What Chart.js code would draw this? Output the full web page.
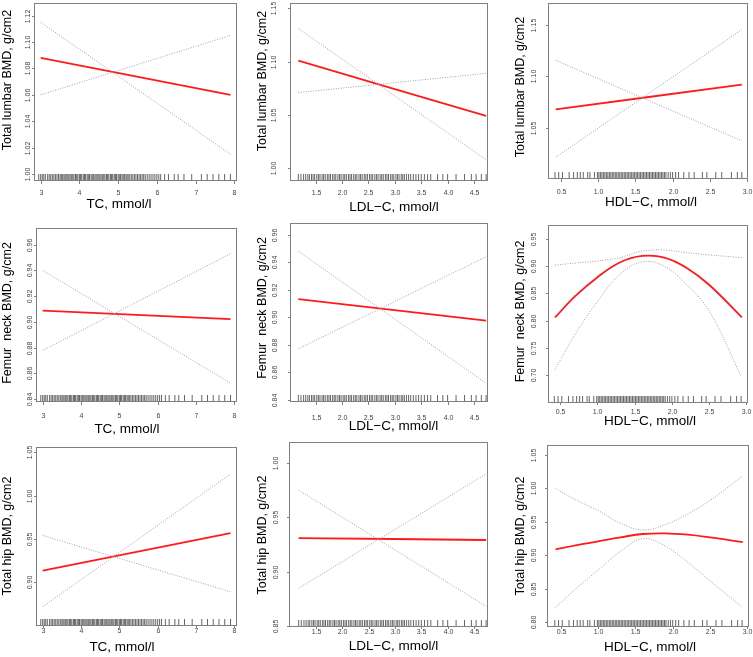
<!DOCTYPE html>
<html lang="en">
<head>
<meta charset="utf-8">
<title>BMD vs lipids</title>
<script src="https://cdn.jsdelivr.net/npm/chart.js@4/dist/chart.umd.min.js"></script>
<style>
  html, body { margin: 0; padding: 0; background: #fff; }
  #wrap { position: relative; width: 753px; height: 657px; }
  canvas { position: absolute; }
</style>
</head>
<body>
<div id="wrap"></div>
<script>
// --- x values (mmol/l) ---
const tcX = [3.0, 7.9];
const ldlX = [1.17, 4.73];
const hdlX = [0.43, 2.93];
const hdlCurveX = [0.43, 0.7, 1.0, 1.3, 1.6, 1.9, 2.2, 2.5, 2.94];

// --- tick labels ---
const tcTicks = [3, 4, 5, 6, 7, 8];
const ldlTicks = [1.5, 2.0, 2.5, 3.0, 3.5, 4.0, 4.5];
const hdlTicks = [0.5, 1.0, 1.5, 2.0, 2.5, 3.0];
const lumbarTcTicks = [1.00, 1.02, 1.04, 1.06, 1.08, 1.10, 1.12];
const lumbarLdlTicks = [1.00, 1.05, 1.10, 1.15];
const lumbarHdlTicks = [1.05, 1.10, 1.15];
const neckTicks = [0.84, 0.86, 0.88, 0.90, 0.92, 0.94, 0.96];
const neckHdlTicks = [0.70, 0.75, 0.80, 0.85, 0.90, 0.95];
const hipTcTicks = [0.90, 0.95, 1.00, 1.05];
const hipLdlTicks = [0.85, 0.90, 0.95, 1.00];
const hipHdlTicks = [0.80, 0.85, 0.90, 0.95, 1.00, 1.05];

// --- rug (observed values) ---
const tcRug = [2.95, 3.0, 3.04, 3.08, 3.12, 3.18, 3.22, 3.26, 3.3, 3.34, 3.38, 3.42, 3.46, 3.5,
  3.53, 3.56, 3.6, 3.63, 3.66, 3.7, 3.73, 3.76, 3.8, 3.83, 3.86, 3.9, 3.93, 3.96, 4.0, 4.03, 4.06,
  4.1, 4.13, 4.16, 4.2, 4.23, 4.26, 4.3, 4.33, 4.36, 4.4, 4.43, 4.46, 4.5, 4.53, 4.56, 4.6, 4.63,
  4.66, 4.7, 4.73, 4.76, 4.8, 4.83, 4.86, 4.9, 4.93, 4.96, 5.0, 5.03, 5.06, 5.1, 5.13, 5.16, 5.2,
  5.23, 5.26, 5.3, 5.34, 5.38, 5.42, 5.46, 5.5, 5.54, 5.58, 5.62, 5.66, 5.7, 5.75, 5.8, 5.85, 5.9,
  5.95, 6.0, 6.05, 6.1, 6.2, 6.3, 6.45, 6.55, 6.7, 6.9, 7.15, 7.3, 7.45, 7.6, 7.75, 7.9];
const ldlRug = [1.17, 1.22, 1.27, 1.31, 1.35, 1.38, 1.42, 1.45, 1.48, 1.52, 1.55, 1.58, 1.62,
  1.65, 1.68, 1.72, 1.75, 1.78, 1.82, 1.85, 1.88, 1.92, 1.95, 1.98, 2.02, 2.05, 2.08, 2.12, 2.15,
  2.18, 2.22, 2.25, 2.28, 2.32, 2.35, 2.38, 2.42, 2.45, 2.48, 2.52, 2.55, 2.58, 2.62, 2.65, 2.68,
  2.72, 2.75, 2.78, 2.82, 2.85, 2.88, 2.92, 2.95, 2.98, 3.02, 3.05, 3.08, 3.12, 3.15, 3.18, 3.22,
  3.26, 3.3, 3.35, 3.4, 3.45, 3.5, 3.56, 3.62, 3.68, 3.81, 3.91, 4.0, 4.16, 4.32, 4.45, 4.54,
  4.64, 4.73];
const hdlRug = [0.42, 0.47, 0.52, 0.61, 0.67, 0.72, 0.76, 0.8, 0.86, 0.89, 0.95, 0.99, 1.01,
  1.03, 1.05, 1.07, 1.09, 1.11, 1.13, 1.15, 1.17, 1.19, 1.21, 1.23, 1.25, 1.27, 1.29, 1.31, 1.33,
  1.35, 1.37, 1.39, 1.41, 1.43, 1.45, 1.47, 1.49, 1.51, 1.53, 1.55, 1.57, 1.59, 1.61, 1.63, 1.65,
  1.67, 1.69, 1.71, 1.73, 1.75, 1.77, 1.79, 1.81, 1.83, 1.85, 1.87, 1.89, 1.91, 1.94, 1.97, 2.0,
  2.04, 2.08, 2.15, 2.22, 2.29, 2.40, 2.46, 2.58, 2.66, 2.79, 2.87, 2.93];

// --- fitted BMD (g/cm2) with confidence bounds ---
const lumbarTcFit = [1.088, 1.060];
const lumbarTcCiA = [1.115, 1.015];
const lumbarTcCiB = [1.060, 1.105];
const lumbarLdlFit = [1.101, 1.049];
const lumbarLdlCiA = [1.131, 1.008];
const lumbarLdlCiB = [1.071, 1.089];
const lumbarHdlFit = [1.068, 1.092];
const lumbarHdlCiA = [1.1155, 1.0375];
const lumbarHdlCiB = [1.0217, 1.1452];
const neckTcFit = [0.9087, 0.9022];
const neckTcCiA = [0.940, 0.8524];
const neckTcCiB = [0.8778, 0.953];
const neckLdlFit = [0.9132, 0.8975];
const neckLdlCiA = [0.948, 0.8519];
const neckLdlCiB = [0.877, 0.944];
const neckHdlFit = [0.806, 0.845, 0.880, 0.907, 0.919, 0.916, 0.897, 0.866, 0.806];
const neckHdlUpper = [0.902, 0.906, 0.910, 0.916, 0.928, 0.930, 0.925, 0.921, 0.916];
const neckHdlLower = [0.710, 0.775, 0.835, 0.885, 0.908, 0.900, 0.866, 0.818, 0.695];
const hipTcFit = [0.9135, 0.9567];
const hipTcCiA = [0.954, 0.889];
const hipTcCiB = [0.8717, 1.0249];
const hipLdlFit = [0.9311, 0.9293];
const hipLdlCiA = [0.975, 0.8684];
const hipLdlCiB = [0.885, 0.990];
const hipHdlFit = [0.909, 0.915, 0.921, 0.927, 0.932, 0.933, 0.931, 0.927, 0.920];
const hipHdlUpper = [1.000, 0.983, 0.967, 0.948, 0.938, 0.946, 0.962, 0.982, 1.019];
const hipHdlLower = [0.822, 0.850, 0.878, 0.906, 0.925, 0.914, 0.890, 0.862, 0.822];

const FONT = 'Liberation Sans, Arial, Helvetica, sans-serif';
const W = 251, H = 219;

// R-style frame, ticks, titles and rug, placed through the chart scales
const rPlot = {
  id: 'rPlot',
  beforeDatasetsDraw(chart, args, o) {
    const {ctx, chartArea: a, scales: {x}} = chart;
    ctx.save();
    ctx.strokeStyle = 'rgba(50,50,50,0.75)';
    ctx.lineWidth = 1;
    ctx.beginPath();
    o.rug.forEach(v => {
      const px = x.getPixelForValue(v);
      ctx.moveTo(px, a.bottom - 1);
      ctx.lineTo(px, a.bottom - 7);
    });
    ctx.stroke();
    ctx.restore();
  },
  afterDraw(chart, args, o) {
    const {ctx, chartArea: a, scales: {x, y}} = chart;
    ctx.save();
    ctx.strokeStyle = '#808080';
    ctx.lineWidth = 1;
    ctx.strokeRect(a.left + 0.5, a.top + 0.5, a.width - 1, a.height - 1);

    ctx.fillStyle = '#444';
    ctx.font = '7px ' + FONT;
    ctx.textAlign = 'center';
    ctx.textBaseline = 'middle';
    ctx.beginPath();
    o.xTicks.forEach(v => {
      const px = Math.round(x.getPixelForValue(v)) + 0.5;
      ctx.moveTo(px, a.bottom);
      ctx.lineTo(px, a.bottom + o.tickLen);
      ctx.fillText(v.toFixed(o.xDec), px, o.xLabelY);
    });
    o.yTicks.forEach(v => {
      const py = Math.round(y.getPixelForValue(v)) + 0.5;
      ctx.moveTo(a.left, py);
      ctx.lineTo(a.left - 2, py);
      ctx.save();
      ctx.translate(o.yLabelX, py);
      ctx.rotate(-Math.PI / 2);
      ctx.fillText(v.toFixed(2), 0, 0);
      ctx.restore();
    });
    ctx.stroke();

    ctx.fillStyle = '#000';
    ctx.font = '13.5px ' + FONT;
    ctx.fillText(o.xTitle, o.xTitlePos[0], o.xTitlePos[1]);
    ctx.font = '12.5px ' + FONT;
    ctx.translate(o.yTitlePos[0], o.yTitlePos[1]);
    ctx.rotate(-Math.PI / 2);
    ctx.fillText(o.yTitle, 0, 0);
    ctx.restore();
  }
};

function pts(xs, ys) {
  return xs.map((v, i) => ({x: v, y: ys[i]}));
}

function makePanel(p) {
  const c = document.createElement('canvas');
  c.width = W; c.height = H;
  c.style.left = p.pos[0] + 'px';
  c.style.top = p.pos[1] + 'px';
  document.getElementById('wrap').appendChild(c);
  const dotted = {borderColor: '#a0a0a0', borderWidth: 1, borderDash: [1, 1.5], pointRadius: 0, tension: 0.4, fill: false};
  new Chart(c, {
    type: 'line',
    data: {
      datasets: [
        Object.assign({data: pts(p.xs, p.ciA)}, dotted),
        Object.assign({data: pts(p.xs, p.ciB)}, dotted),
        {data: pts(p.xs, p.fit), borderColor: '#ff1a1a', borderWidth: 1.8, pointRadius: 0, tension: 0.4, fill: false}
      ]
    },
    options: {
      responsive: false,
      animation: false,
      devicePixelRatio: 1,
      layout: {padding: {top: p.area[2], right: W - p.area[1], left: 0, bottom: 0}},
      plugins: {
        legend: {display: false},
        tooltip: {enabled: false},
        rPlot: {
          rug: p.rug, xTicks: p.xTicks, yTicks: p.yTicks, xDec: p.xDec, tickLen: p.tickLen,
          xLabelY: p.xLabelY, yLabelX: p.yLabelX,
          xTitle: p.xTitle, yTitle: p.yTitle, xTitlePos: p.xTitlePos, yTitlePos: p.yTitlePos
        }
      },
      scales: {
        x: {
          type: 'linear', min: p.xr[0], max: p.xr[1],
          grid: {display: false}, border: {display: false}, ticks: {display: false},
          afterFit: s => { s.height = H - p.area[3]; }
        },
        y: {
          type: 'linear', min: p.yr[0], max: p.yr[1],
          grid: {display: false}, border: {display: false}, ticks: {display: false},
          afterFit: s => { s.width = p.area[0]; }
        }
      }
    },
    plugins: [rPlot]
  });
}

const lumbar = 'Total lumbar BMD, g/cm2';
const neck = 'Femur  neck BMD, g/cm2';
const hip = 'Total hip BMD, g/cm2';
const tcT = 'TC, mmol/l', ldlT = 'LDL\u2212C, mmol/l', hdlT = 'HDL\u2212C, mmol/l';

const panels = [
  {pos: [0, 0], area: [34, 237, 3, 181], xr: [2.827, 8.07], yr: [0.9947, 1.1296],
   xs: tcX, fit: lumbarTcFit, ciA: lumbarTcCiA, ciB: lumbarTcCiB, rug: tcRug,
   xTicks: tcTicks, xDec: 0, yTicks: lumbarTcTicks, xLabelY: 192.7, yLabelX: 28, tickLen: 3,
   xTitle: tcT, yTitle: lumbar, xTitlePos: [119, 204], yTitlePos: [8, 80]},
  {pos: [251, 0], area: [39, 237, 3, 181], xr: [1.012, 4.766], yr: [0.988, 1.155],
   xs: ldlX, fit: lumbarLdlFit, ciA: lumbarLdlCiA, ciB: lumbarLdlCiB, rug: ldlRug,
   xTicks: ldlTicks, xDec: 1, yTicks: lumbarLdlTicks, xLabelY: 192.7, yLabelX: 23, tickLen: 3,
   xTitle: ldlT, yTitle: lumbar, xTitlePos: [143, 207], yTitlePos: [12, 81]},
  {pos: [502, 0], area: [46, 246, 3, 179], xr: [0.326, 3.013], yr: [1.0006, 1.171],
   xs: hdlX, fit: lumbarHdlFit, ciA: lumbarHdlCiA, ciB: lumbarHdlCiB, rug: hdlRug,
   xTicks: hdlTicks, xDec: 1, yTicks: lumbarHdlTicks, xLabelY: 191.7, yLabelX: 32.5, tickLen: 3,
   xTitle: hdlT, yTitle: lumbar, xTitlePos: [149, 202], yTitlePos: [19, 87]},
  {pos: [0, 219], area: [36, 237, 9, 183], xr: [2.825, 8.07], yr: [0.8377, 0.973],
   xs: tcX, fit: neckTcFit, ciA: neckTcCiA, ciB: neckTcCiB, rug: tcRug,
   xTicks: tcTicks, xDec: 0, yTicks: neckTicks, xLabelY: 196.7, yLabelX: 30, tickLen: 3,
   xTitle: tcT, yTitle: neck, xTitlePos: [127, 210], yTitlePos: [8, 94]},
  {pos: [251, 219], area: [39, 237, 4, 183], xr: [1.012, 4.766], yr: [0.8383, 0.9685],
   xs: ldlX, fit: neckLdlFit, ciA: neckLdlCiA, ciB: neckLdlCiB, rug: ldlRug,
   xTicks: ldlTicks, xDec: 1, yTicks: neckTicks, xLabelY: 199, yLabelX: 24, tickLen: 3,
   xTitle: ldlT, yTitle: neck, xTitlePos: [142.5, 207], yTitlePos: [12, 89]},
  {pos: [502, 219], area: [46, 246, 6, 184], xr: [0.335, 3.023], yr: [0.6485, 0.976],
   xs: hdlCurveX, fit: neckHdlFit, ciA: neckHdlUpper, ciB: neckHdlLower, rug: hdlRug,
   xTicks: hdlTicks, xDec: 1, yTicks: neckHdlTicks, xLabelY: 192.8, yLabelX: 32, tickLen: 2,
   xTitle: hdlT, yTitle: neck, xTitlePos: [148, 202], yTitlePos: [19, 92.5]},
  {pos: [0, 438], area: [36, 237, 9, 188], xr: [2.825, 8.07], yr: [0.8495, 1.056],
   xs: tcX, fit: hipTcFit, ciA: hipTcCiA, ciB: hipTcCiB, rug: tcRug,
   xTicks: tcTicks, xDec: 0, yTicks: hipTcTicks, xLabelY: 193.3, yLabelX: 30, tickLen: 2,
   xTitle: tcT, yTitle: hip, xTitlePos: [122, 209], yTitlePos: [8, 98]},
  {pos: [251, 438], area: [38, 237, 4, 189], xr: [0.986, 4.766], yr: [0.8494, 1.0193],
   xs: ldlX, fit: hipLdlFit, ciA: hipLdlCiA, ciB: hipLdlCiB, rug: ldlRug,
   xTicks: ldlTicks, xDec: 1, yTicks: hipLdlTicks, xLabelY: 193.7, yLabelX: 25, tickLen: 2,
   xTitle: ldlT, yTitle: hip, xTitlePos: [142.5, 208], yTitlePos: [12, 97]},
  {pos: [502, 438], area: [45, 247, 7, 189], xr: [0.315, 3.023], yr: [0.793, 1.065],
   xs: hdlCurveX, fit: hipHdlFit, ciA: hipHdlUpper, ciB: hipHdlLower, rug: hdlRug,
   xTicks: hdlTicks, xDec: 1, yTicks: hipHdlTicks, xLabelY: 193.7, yLabelX: 32, tickLen: 2,
   xTitle: hdlT, yTitle: hip, xTitlePos: [148, 209], yTitlePos: [19, 98]}
];

panels.forEach(makePanel);
</script>
</body>
</html>
